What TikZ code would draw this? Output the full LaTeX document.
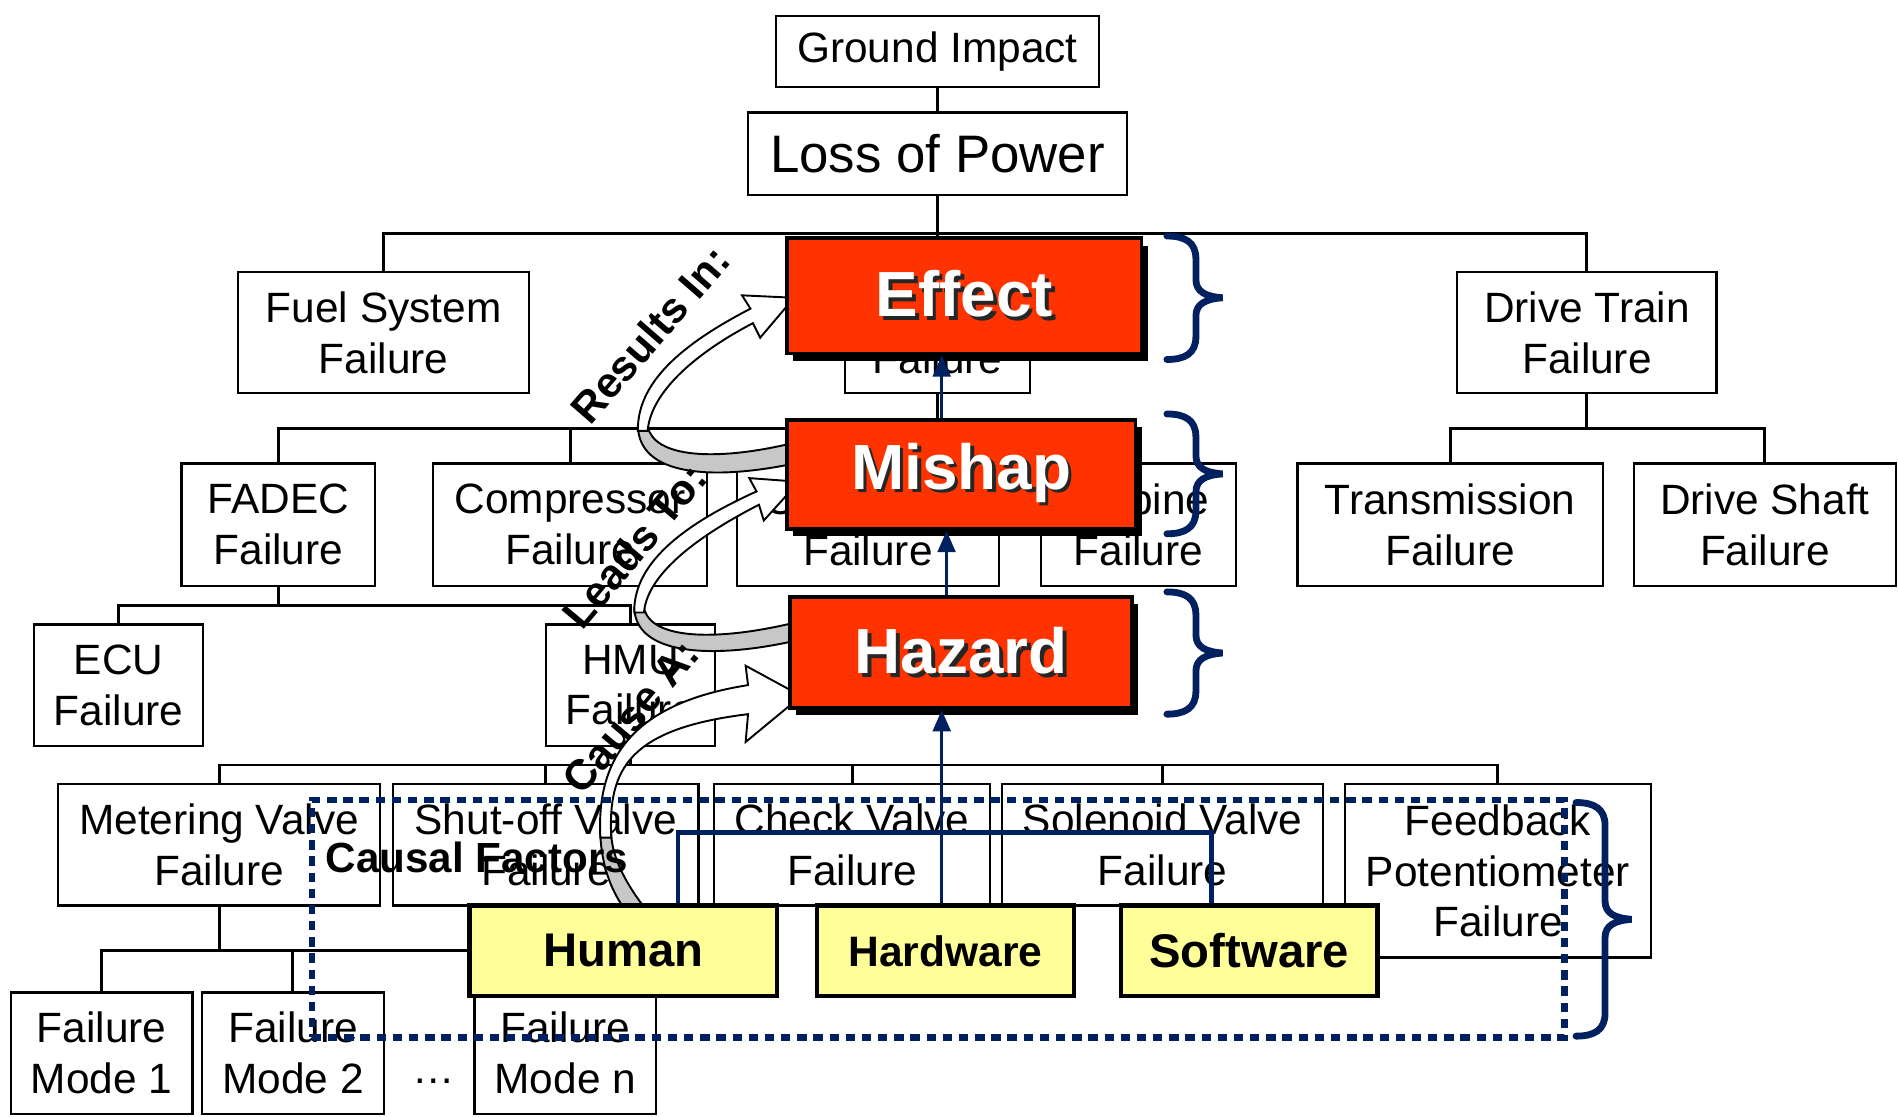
\documentclass[tikz,border=0pt]{standalone}
\usepackage{fontspec}
\setmainfont{Liberation Sans}
\usetikzlibrary{arrows.meta,shadows}
\definecolor{navy}{RGB}{0,32,96}
\definecolor{hazred}{RGB}{255,51,0}
\definecolor{causeyellow}{RGB}{255,255,153}
\newcommand\fsReg{\fontsize{9.96pt}{11.95pt}\selectfont}
\newcommand\fsTop{\fontsize{12.4pt}{14pt}\selectfont}
\newcommand\fsRed{\fontsize{15pt}{17pt}\selectfont\bfseries}
\newcommand\fsRot{\fontsize{10pt}{12pt}\selectfont\bfseries}
\newcommand\fsCause{\fontsize{9.9pt}{12pt}\selectfont\bfseries}
\newcommand\fsHum{\fontsize{11.1pt}{13pt}\selectfont\bfseries}
\newcommand\fsHard{\fontsize{10pt}{12pt}\selectfont\bfseries}
% white lettering with a dark drop shadow
\newcommand\shadowtext[1]{\leavevmode\rlap{\kern0.9pt\raisebox{-0.9pt}{\textcolor{black!85}{#1}}}\textcolor{white}{#1}}
% right-hand curly brace: x of the ends, top y, bottom y
\newcommand\sidebrace[3]{%
  \draw[bracestyle] (#1,#2) .. controls ({#1+15},#2) and ({#1+24},{#2+5}) .. ({#1+24},{#2+19})
    -- ({#1+24},{(#2+#3)/2-15})
    .. controls ({#1+24},{(#2+#3)/2-5}) and ({#1+32},{(#2+#3)/2-1}) .. ({#1+46},{(#2+#3)/2})
    .. controls ({#1+32},{(#2+#3)/2+1}) and ({#1+24},{(#2+#3)/2+5}) .. ({#1+24},{(#2+#3)/2+15})
    -- ({#1+24},{#3-19})
    .. controls ({#1+24},{#3-5}) and ({#1+15},#3) .. (#1,#3);}

\begin{document}
\begin{tikzpicture}[x=0.01cm,y=-0.01cm,
  fbox/.style={draw, line width=0.5pt, fill=white, inner sep=0pt, align=center, font=\fsReg},
  conn/.style={line width=0.7pt},
  redbox/.style={draw=black, line width=0.9pt, fill=hazred, inner sep=0pt, font=\fsRed,
    drop shadow={shadow xshift=0.05cm, shadow yshift=-0.06cm, fill=black, opacity=1}},
  ybox/.style={draw=black, line width=1pt, fill=causeyellow, inner sep=0pt, font=\fsHum},
  barrow/.style={draw=navy, line width=0.6pt, -{Triangle[length=5pt,width=4.2pt]}, navy},
  navyline/.style={draw=navy, line width=1.1pt},
  causal/.style={draw=navy, line width=1.6pt, dash pattern=on 2.2pt off 1.6pt},
  bracestyle/.style={draw=navy, line width=1.6pt, line cap=round},
  band/.style={fill=white, draw=black, line width=0.45pt},
  bandback/.style={fill=black!22, draw=black, line width=0.45pt},
  steplabel/.style={font=\fsRot, inner sep=0pt}]
\useasboundingbox (0,0) rectangle (1568,922);
\fill[white] (0,0) rectangle (1568,922);

% ---- fault tree boxes
\node[fbox, minimum width=2.67cm, minimum height=0.59cm] (gi) at (774.5,42.5) {\raisebox{-1pt}{Ground Impact}};
\node[fbox, font=\fsTop, minimum width=3.13cm, minimum height=0.68cm] (lop) at (774.5,127) {Loss of Power};
\node[fbox, minimum width=2.40cm, minimum height=1.00cm] (fuel) at (317,275) {Fuel System\\Failure};
\node[fbox, minimum width=1.53cm, minimum height=1.00cm] (eng) at (774.5,275) {Engine\\Failure};
\node[fbox, minimum width=2.14cm, minimum height=1.00cm] (drive) at (1311,275) {Drive Train\\Failure};
\node[fbox, minimum width=1.60cm, minimum height=1.01cm] (fadec) at (230,433.5) {FADEC\\Failure};
\node[fbox, minimum width=2.26cm, minimum height=1.01cm] (comp) at (471,433.5) {Compressor\\Failure};
\node[fbox, minimum width=2.16cm, minimum height=1.01cm] (comb) at (717,433.5) {Combustor\\Failure};
\node[fbox, minimum width=1.61cm, minimum height=1.01cm] (turb) at (940.5,433.5) {Turbine\\Failure};
\node[fbox, minimum width=2.52cm, minimum height=1.01cm] (trans) at (1198,433.5) {Transmission\\Failure};
\node[fbox, minimum width=2.16cm, minimum height=1.01cm] (shaft) at (1458,433.5) {Drive Shaft\\Failure};
\node[fbox, minimum width=1.40cm, minimum height=1.00cm] (ecu) at (98,566) {ECU\\Failure};
\node[fbox, minimum width=1.40cm, minimum height=1.00cm] (hmu) at (521,566) {HMU\\Failure};
\node[fbox, minimum width=2.66cm, minimum height=1.00cm] (meter) at (181,698) {Metering Valve\\Failure};
\node[fbox, minimum width=2.52cm, minimum height=1.00cm] (shut) at (451,698) {Shut-off Valve\\Failure};
\node[fbox, minimum width=2.28cm, minimum height=1.00cm] (check) at (704,698) {Check Valve\\Failure};
\node[fbox, minimum width=2.65cm, minimum height=1.00cm] (sol) at (960.5,698) {Solenoid Valve\\Failure};
\node[fbox, minimum width=2.53cm, minimum height=1.43cm] (feed) at (1237.5,719.5) {Feedback\\Potentiometer\\Failure};
\node[fbox, minimum width=1.50cm, minimum height=1.00cm] (fm1) at (84,870) {Failure\\Mode 1};
\node[fbox, minimum width=1.50cm, minimum height=1.00cm] (fm2) at (242,870) {Failure\\Mode 2};
\node[fbox, minimum width=1.50cm, minimum height=1.00cm] (fmn) at (467,870) {Failure\\Mode n};
\node[font=\fsReg, inner sep=0pt] (more) at (358,893) {…};

% ---- tree connectors
\coordinate (j1) at (774.5,193);
\coordinate (j2) at (774.5,354);
\coordinate (j3) at (1311,354);
\coordinate (j4) at (230,500);
\coordinate (j5) at (521,632);
\coordinate (j6) at (181,785);
\draw[conn] (gi) -- (lop);
\draw[conn] (lop) -- (eng);
\draw[conn] (fuel.north) |- (j1) -| (drive.north);
\draw[conn] (eng) -- (j2);
\draw[conn] (fadec.north) |- (j2) -| (turb.north);
\draw[conn] (comp.north) -- (comp.north |- j2);
\draw[conn] (comb.north) -- (comb.north |- j2);
\draw[conn] (drive) -- (j3);
\draw[conn] (trans.north) |- (j3) -| (shaft.north);
\draw[conn] (fadec) -- (j4);
\draw[conn] (ecu.north) |- (j4) -| (hmu.north);
\draw[conn] (hmu) -- (j5);
\draw[conn] (meter.north) |- (j5) -| (feed.north);
\draw[conn] (shut.north) -- (shut.north |- j5);
\draw[conn] (check.north) -- (check.north |- j5);
\draw[conn] (sol.north) -- (sol.north |- j5);
\draw[conn] (meter) -- (j6);
\draw[conn] (fm1.north) |- (j6) -| (fmn.north);
\draw[conn] (fm2.north) -- (fm2.north |- j6);

% ---- curved block arrows (back face grey, front face white)
\filldraw[bandback] (527,352) .. controls (528,394) and (590,396) .. (651,384) -- (651,367) .. controls (590,381) and (540,378) .. (535,352) -- cycle;
\filldraw[band] (527,356) .. controls (526,312) and (572,280) .. (620,255) -- (613,244) -- (656,246) -- (628,279) -- (622,267) .. controls (578,290) and (538,322) .. (535,356) -- cycle;

\filldraw[bandback] (524,502) .. controls (525,542) and (590,544) .. (654,530) -- (654,515) .. controls (590,530) and (537,528) .. (532,502) -- cycle;
\filldraw[band] (524,506) .. controls (523,462) and (572,430) .. (625,406) -- (619,395) -- (660,398) -- (631,430) -- (627,417) .. controls (582,440) and (535,472) .. (532,506) -- cycle;

\filldraw[bandback] (496,690) .. controls (497,715) and (505,735) .. (514,748) -- (531,748) .. controls (516,728) and (506,708) .. (505,690) -- cycle;
\filldraw[band] (496,692) .. controls (492,620) and (530,580) .. (618,566) -- (616,550) -- (662,575) -- (616,613) -- (618,590) .. controls (520,602) and (502,635) .. (505,692) -- cycle;

% ---- hazard chain
\node[redbox, minimum width=2.93cm, minimum height=0.95cm] (effect) at (796.5,244.5) {\shadowtext{Effect}};
\node[redbox, minimum width=2.88cm, minimum height=0.90cm] (mishap) at (794,392) {\shadowtext{Mishap}};
\node[redbox, minimum width=2.82cm, minimum height=0.92cm] (hazard) at (794,539) {\shadowtext{Hazard}};

% ---- causal factor boxes
\node[ybox, minimum width=2.54cm, minimum height=0.75cm] (human) at (515,785.5) {Human};
\node[ybox, font=\fsHard, minimum width=2.12cm, minimum height=0.75cm] (hard) at (781,785.5) {Hardware};
\node[ybox, minimum width=2.12cm, minimum height=0.75cm] (soft) at (1032,785.5) {Software};

% ---- navy links
\coordinate (ax) at (778,0);
\coordinate (bx) at (782,0);
\coordinate (lk1) at (560,688);
\coordinate (lk2) at (1001,688);
\draw[barrow] (mishap.north -| ax) -- (effect.south -| ax);
\draw[barrow] (hazard.north -| bx) -- (mishap.south -| bx);
\draw[navyline] (human.north -| lk1) -- (lk1) -- (lk2) -- (soft.north -| lk2);
\draw[barrow] (hard.north -| ax) -- (hazard.south -| ax);

% ---- causal factors frame
\node[causal, minimum width=10.34cm, minimum height=1.96cm, inner sep=0pt] (cf) at (775,759) {};
\node[font=\fsCause, inner sep=0pt] (cflabel) at (394,708) {Causal Factors};

% ---- braces
\sidebrace{964}{195}{297}
\sidebrace{964}{342}{441}
\sidebrace{964}{489}{590}
\sidebrace{1302}{663}{856}

% ---- arrow captions
\node[steplabel, rotate=49] (lbl1) at (537,276) {Results In:};
\node[steplabel, rotate=50] (lbl2) at (524,451) {Leads To:};
\node[steplabel, rotate=50] (lbl3) at (521,592) {Cause A:};
\end{tikzpicture}
\end{document}
